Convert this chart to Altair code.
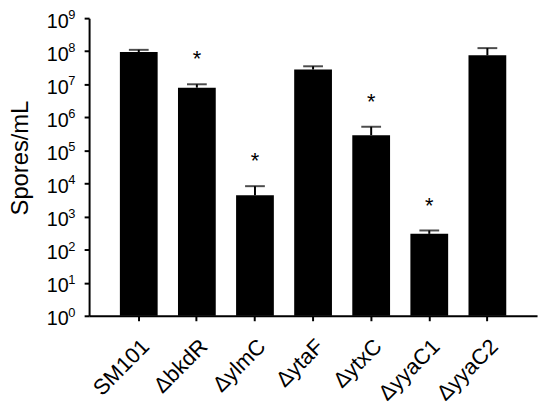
import altair as alt
import pandas as pd

strains = ["SM101", "ΔbkdR", "ΔylmC", "ΔytaF", "ΔytxC", "ΔyyaC1", "ΔyyaC2"]
means = [9.4e7, 7.9e6, 4.4e3, 2.8e7, 2.9e5, 3.0e2, 7.5e7]
upper = [1.1e8, 1.0e7, 8.3e3, 3.5e7, 5.2e5, 3.8e2, 1.24e8]
signif = ["", "*", "*", "", "*", "*", ""]

exponents = ["0", "1", "2", "3", "4", "5", "6", "7", "8", "9"]
tick_values = [10 ** int(e) for e in exponents]

df = pd.DataFrame({"strain": strains, "mean": means, "upper": upper, "sig": signif})
ticks = pd.DataFrame({"tv": tick_values, "exp": exponents})

FONT = "Liberation Sans"

xenc = alt.X(
    "strain:N",
    sort=strains,
    title=None,
    scale=alt.Scale(paddingInner=0.35, paddingOuter=0.53),
    axis=alt.Axis(
        labelAngle=-45,
        labelFontSize=22,
        labelFont=FONT,
        labelColor="black",
        labelPadding=15,
        tickSize=5,
        tickWidth=2,
        tickColor="black",
        domainColor="black",
        domainWidth=2,
    ),
)
yscale = alt.Scale(type="log", domain=[1, 1e9], nice=False)

bars = alt.Chart(df).mark_bar(color="black").encode(
    x=xenc,
    y=alt.Y(
        "mean:Q",
        scale=yscale,
        axis=alt.Axis(
            values=tick_values,
            labelExpr="'10'",
            labelFontSize=20,
            labelFont=FONT,
            labelColor="black",
            labelPadding=16,
            labelOffset=3,
            tickSize=5,
            tickWidth=2,
            tickColor="black",
            domainColor="black",
            domainWidth=2,
            grid=False,
            title="Spores/mL",
            titleFont=FONT,
            titleFontSize=24,
            titleFontWeight="normal",
            titleColor="black",
            titleAngle=-90,
            titleX=-62,
            titleY=141,
            titleAlign="center",
            titleBaseline="alphabetic",
        ),
    ),
    y2=alt.datum(1),
)

err = alt.Chart(df).mark_rule(color="black", strokeWidth=2).encode(
    x=alt.X("strain:N", sort=strains),
    y="mean:Q",
    y2="upper:Q",
)

caps = alt.Chart(df).mark_tick(color="black", size=20, thickness=2).encode(
    x=alt.X("strain:N", sort=strains),
    y="upper:Q",
)

stars = alt.Chart(df).mark_text(
    font=FONT, fontSize=22, color="black", baseline="alphabetic", dy=-18
).encode(
    x=alt.X("strain:N", sort=strains),
    y="upper:Q",
    text="sig:N",
)

expo = alt.Chart(ticks).mark_text(
    font=FONT, fontSize=13, color="black", align="left", baseline="alphabetic", dy=1
).encode(
    x=alt.value(-21),
    y=alt.Y("tv:Q", scale=yscale),
    text="exp:N",
)

chart = (
    alt.layer(bars, err, caps, stars, expo)
    .properties(
        width=453,
        height=301,
        autosize=alt.AutoSizeParams(type="none"),
        padding={"left": 82, "top": 8, "right": 5, "bottom": 92},
    )
    .configure_view(stroke=None)
)

chart.save("out.html", embed_options={"renderer": "svg", "actions": False})
